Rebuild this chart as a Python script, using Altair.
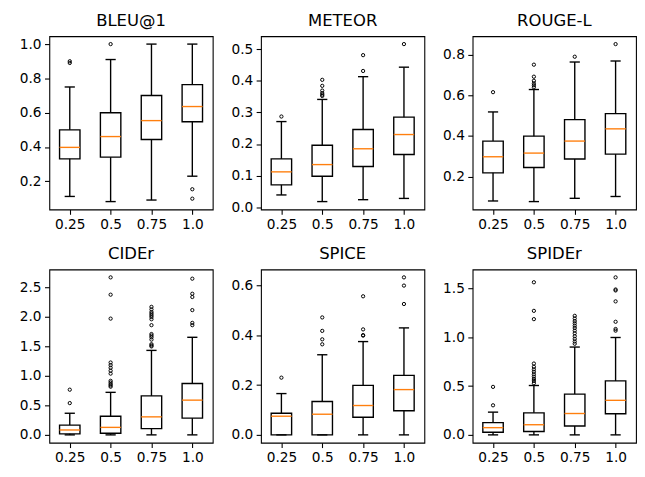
import altair as alt
import pandas as pd

cats = ["0.25", "0.5", "0.75", "1.0"]

# BLEU@1
bleu_lo = [0.112, 0.082, 0.091, 0.23]
bleu_q1 = [0.331, 0.341, 0.444, 0.547]
bleu_med = [0.398, 0.461, 0.554, 0.636]
bleu_q3 = [0.50, 0.60, 0.70, 0.764]
bleu_hi = [0.75, 0.91, 1.0, 1.0]
bleu_fl = [[0.90, 0.89], [1.0], [], [0.154, 0.099]]
bleu_ticks = [0.2, 0.4, 0.6, 0.8, 1.0]

# METEOR
met_lo = [0.039, 0.018, 0.024, 0.028]
met_q1 = [0.071, 0.098, 0.129, 0.167]
met_med = [0.112, 0.135, 0.185, 0.230]
met_q3 = [0.153, 0.196, 0.246, 0.285]
met_hi = [0.271, 0.341, 0.413, 0.443]
met_fl = [[0.287], [0.403, 0.384, 0.369, 0.361, 0.356, 0.352], [0.431, 0.481], [0.516]]
met_ticks = [0.0, 0.1, 0.2, 0.3, 0.4, 0.5]

# ROUGE-L
rou_lo = [0.081, 0.078, 0.094, 0.103]
rou_q1 = [0.219, 0.245, 0.287, 0.311]
rou_med = [0.298, 0.316, 0.375, 0.435]
rou_q3 = [0.375, 0.399, 0.48, 0.51]
rou_hi = [0.518, 0.628, 0.763, 0.768]
rou_fl = [[0.615], [0.750, 0.691, 0.671, 0.658, 0.649, 0.639], [0.789], [0.851]]
rou_ticks = [0.2, 0.4, 0.6, 0.8]

# CIDEr
cid_lo = [0.0, 0.0, 0.0, 0.0]
cid_q1 = [0.017, 0.028, 0.105, 0.283]
cid_med = [0.083, 0.127, 0.305, 0.588]
cid_q3 = [0.166, 0.316, 0.66, 0.87]
cid_hi = [0.366, 0.72, 1.43, 1.652]
cid_fl = [[0.538, 0.765],
          [2.666, 2.373, 1.968, 1.225, 1.181, 1.136, 1.086, 1.037, 0.915, 0.887, 0.859, 0.837, 0.815],
          [2.167, 2.123, 2.079, 2.051, 2.023, 1.996, 1.957, 1.857, 1.707, 1.68, 1.652, 1.613, 1.535, 1.513, 1.497],
          [2.644, 2.389, 2.334, 2.112, 1.896, 1.857]]
cid_ticks = [0.0, 0.5, 1.0, 1.5, 2.0, 2.5]

# SPICE
spi_lo = [0.0, 0.0, 0.0, 0.0]
spi_q1 = [0.0, 0.0, 0.071, 0.097]
spi_med = [0.075, 0.083, 0.118, 0.182]
spi_q3 = [0.087, 0.134, 0.199, 0.239]
spi_hi = [0.166, 0.322, 0.375, 0.43]
spi_fl = [[0.23], [0.472, 0.418, 0.384, 0.364], [0.557, 0.424, 0.401, 0.399], [0.633, 0.6, 0.526]]
spi_ticks = [0.0, 0.2, 0.4, 0.6]

# SPIDEr
spd_lo = [0.0, 0.0, 0.0, 0.0]
spd_q1 = [0.027, 0.034, 0.091, 0.216]
spd_med = [0.074, 0.104, 0.219, 0.354]
spd_q3 = [0.125, 0.226, 0.418, 0.553]
spd_hi = [0.233, 0.506, 0.9, 0.998]
spd_fl = [[0.303, 0.492],
          [1.564, 1.271, 1.186, 0.731, 0.698, 0.671, 0.647, 0.62, 0.597, 0.573, 0.553, 0.529],
          [1.22, 1.193, 1.166, 1.143, 1.119, 1.095, 1.068, 1.041, 1.011, 0.984, 0.957, 0.934],
          [1.614, 1.49, 1.48, 1.368, 1.159, 1.085, 1.068]]
spd_ticks = [0.0, 0.5, 1.0, 1.5]

W, H = 166, 176
BOXW = W / 4 * 0.5
CAPW = BOXW / 2
LW = 1.4


def panel(name, lo, q1, med, q3, hi, fl, ticks):
    df = pd.DataFrame({"w": cats, "lo": lo, "q1": q1, "med": med, "q3": q3, "hi": hi})
    fdf = pd.DataFrame([(c, v) for c, vs in zip(cats, fl) for v in vs], columns=["w", "v"])
    allv = lo + hi + [v for vs in fl for v in vs]
    vmin, vmax = min(allv), max(allv)
    m = 0.05 * (vmax - vmin)
    ysc = alt.Scale(domain=[vmin - m, vmax + m], nice=False, zero=False)
    yax = alt.Axis(title=None, values=ticks, format=".1f")
    x = alt.X("w:N", sort=cats, scale=alt.Scale(type="point", padding=0.5),
              axis=alt.Axis(title=None, labelAngle=0))
    base = alt.Chart(df)
    wl = base.mark_rule(color="black", strokeWidth=LW).encode(
        x=x, y=alt.Y("lo:Q", scale=ysc, axis=yax), y2="q1:Q")
    wh = base.mark_rule(color="black", strokeWidth=LW).encode(
        x=x, y=alt.Y("q3:Q", scale=ysc, axis=yax), y2="hi:Q")
    box = base.mark_bar(size=BOXW, fill="white", fillOpacity=0, stroke="black", strokeWidth=LW).encode(
        x=x, y=alt.Y("q1:Q", scale=ysc, axis=yax), y2="q3:Q")
    md = base.mark_tick(orient="horizontal", size=BOXW, thickness=LW, color="#ff7f0e", opacity=1).encode(
        x=x, y=alt.Y("med:Q", scale=ysc, axis=yax))
    cl = base.mark_tick(orient="horizontal", size=CAPW, thickness=LW, color="black", opacity=1).encode(
        x=x, y=alt.Y("lo:Q", scale=ysc, axis=yax))
    ch = base.mark_tick(orient="horizontal", size=CAPW, thickness=LW, color="black", opacity=1).encode(
        x=x, y=alt.Y("hi:Q", scale=ysc, axis=yax))
    pts = alt.Chart(fdf).mark_point(shape="circle", filled=False, size=11, color="black",
                                    strokeWidth=1, opacity=1).encode(
        x=x, y=alt.Y("v:Q", scale=ysc, axis=yax))
    return alt.layer(wl, wh, box, md, cl, ch, pts).properties(
        width=W, height=H,
        title=alt.TitleParams(name, fontSize=16.7, font="DejaVu Sans", fontWeight="normal",
                              color="black", offset=7))


row1 = alt.hconcat(
    panel("BLEU@1", bleu_lo, bleu_q1, bleu_med, bleu_q3, bleu_hi, bleu_fl, bleu_ticks),
    panel("METEOR", met_lo, met_q1, met_med, met_q3, met_hi, met_fl, met_ticks),
    panel("ROUGE-L", rou_lo, rou_q1, rou_med, rou_q3, rou_hi, rou_fl, rou_ticks),
    spacing=16)
row2 = alt.hconcat(
    panel("CIDEr", cid_lo, cid_q1, cid_med, cid_q3, cid_hi, cid_fl, cid_ticks),
    panel("SPICE", spi_lo, spi_q1, spi_med, spi_q3, spi_hi, spi_fl, spi_ticks),
    panel("SPIDEr", spd_lo, spd_q1, spd_med, spd_q3, spd_hi, spd_fl, spd_ticks),
    spacing=16)

chart = alt.vconcat(row1, row2, spacing=13).properties(
    padding={"left": 10, "top": 0, "right": 0, "bottom": 0}
).configure_axis(
    labelFont="DejaVu Sans", labelFontSize=13.9, labelColor="black",
    tickColor="black", tickSize=4.9, tickWidth=1.1, labelPadding=3.5,
    domain=False, grid=False
).configure_view(stroke="black", strokeWidth=1.1)

chart.save("out.html", embed_options={"renderer": "svg", "actions": False})
